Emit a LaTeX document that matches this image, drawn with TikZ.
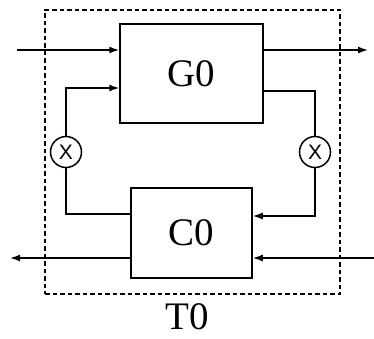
\documentclass[tikz,border=0pt]{standalone}
\usepackage{fontspec}
\setmainfont{Liberation Serif}
\newfontfamily\xfont{Liberation Sans}
\usetikzlibrary{arrows.meta, positioning}

\begin{document}
\begin{tikzpicture}[x=1pt, y=-1pt, line width=1.5pt,
  blk/.style={draw, inner sep=0pt, font=\fontsize{39}{39}\selectfont},
  mul/.style={draw, circle, minimum size=31pt, inner sep=0pt, font=\xfont\fontsize{21}{21}\selectfont},
  arr/.style={-{Latex[length=10pt,width=7pt]}}]
\useasboundingbox (0,0) rectangle (374,339);

% frame and blocks
\node[draw, dashed, dash pattern=on 4.5pt off 3pt, line width=1.3pt, minimum width=295pt, minimum height=284pt] (frame) at (192.5,152) {};
\node[blk, minimum width=143pt, minimum height=99pt] (g0) at (191.5,73.5) {G0};
\node[blk, minimum width=121pt, minimum height=90pt] (c0) at (191.5,233) {C0};
\node[mul] (mulL) at (66,152) {X};
\node[mul] (mulR) at (315,152) {X};
\node[font=\fontsize{39}{39}\selectfont] (t0) at (187,317) {T0};

% outer signals
\coordinate (inG) at (17,50);
\coordinate (outG) at (368,50);
\coordinate (inC) at (374,258);
\coordinate (outC) at (10,258);
\draw[arr] (inG) -- (inG -| g0.west);
\draw[arr] (inG -| g0.east) -- (outG);
\draw[arr] (inC) -- (inC -| c0.east);
\draw[arr] (outC -| c0.west) -- (outC);

% feedback loops
\draw[arr] (mulL.north) |- ([yshift=-14.5pt]g0.west);
\draw ([yshift=-17.5pt]g0.east) -| (mulR.north);
\draw (mulL.south) |- ([yshift=19pt]c0.west);
\draw[arr] (mulR.south) |- ([yshift=17pt]c0.east);
\end{tikzpicture}
\end{document}
